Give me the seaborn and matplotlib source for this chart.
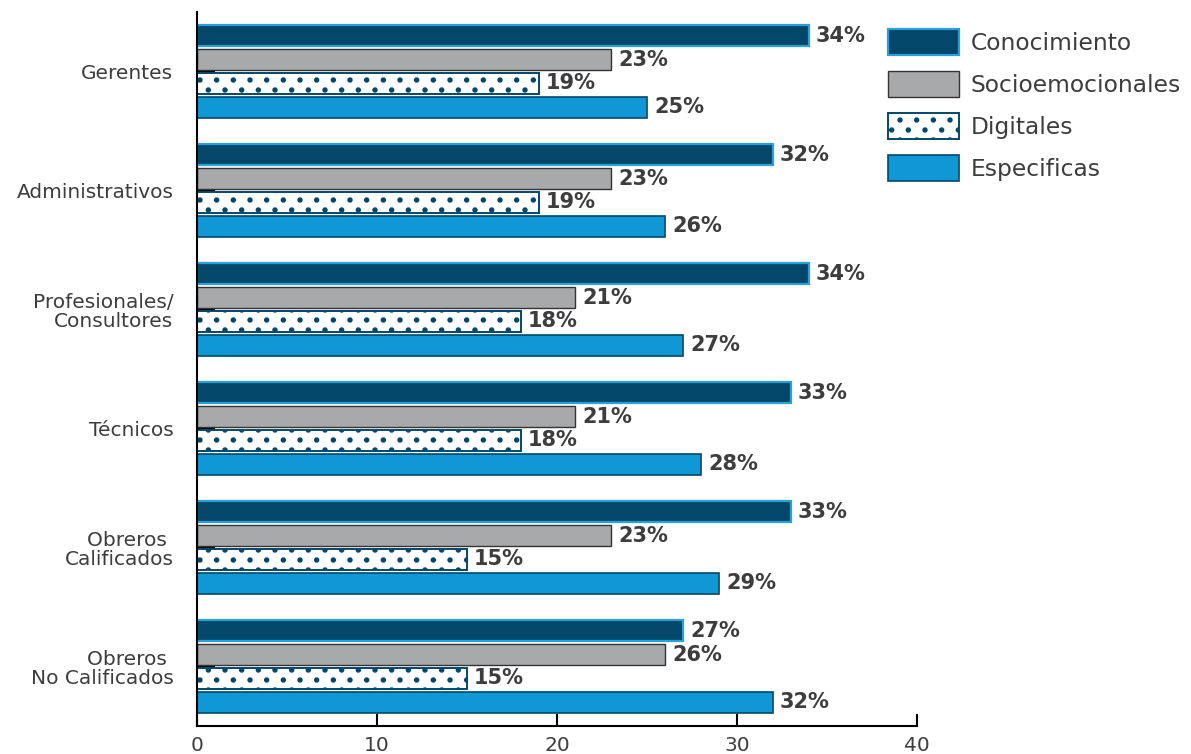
import matplotlib
matplotlib.use("Agg")
import matplotlib.pyplot as plt
from matplotlib.patches import Patch
from matplotlib.path import Path
import numpy as np
import seaborn as sns
import pandas as pd

categories = ["Gerentes", "Administrativos", "Profesionales/\nConsultores",
              "Técnicos", "Obreros \nCalificados", "Obreros \nNo Calificados"]
series = ["Conocimiento", "Socioemocionales", "Digitales", "Especificas"]
conocimiento = [34, 32, 34, 33, 33, 27]
socioemocionales = [23, 23, 21, 21, 23, 26]
digitales = [19, 19, 18, 18, 15, 15]
especificas = [25, 26, 27, 28, 29, 32]
x_ticks = [0, 10, 20, 30, 40]

# ---- custom dot hatch (staggered, wider columns than rows) ----
try:
    from matplotlib import hatch as mhatch

    class WideDots(mhatch.HatchPatternBase):
        rows = 10
        cols = 6
        radius = 0.02

        def __init__(self, hatch, density):
            self.n = hatch.count('.')
            circ = Path.unit_circle()
            self.sv = circ.vertices
            self.sc = circ.codes
            centers = []
            if self.n:
                for j in range(self.rows + 1):
                    y = j / self.rows
                    if j % 2 == 0:
                        xs = np.linspace(0, 1, self.cols + 1)
                    else:
                        xs = (np.arange(self.cols) + 0.5) / self.cols
                    for x in xs:
                        centers.append((x, y))
            self.centers = centers
            self.num_vertices = len(centers) * len(self.sv)

        def set_vertices_and_codes(self, vertices, codes):
            k = len(self.sv)
            for i, (cx, cy) in enumerate(self.centers):
                vertices[i * k:(i + 1) * k] = self.sv * self.radius + (cx, cy)
                codes[i * k:(i + 1) * k] = self.sc

    mhatch._hatch_types = [WideDots if t is mhatch.SmallFilledCircles else t
                           for t in mhatch._hatch_types]
except Exception:
    pass

values = [conocimiento, socioemocionales, digitales, especificas]
rows = []
for s, vals in zip(series, values):
    for c, v in zip(categories, vals):
        rows.append({"cat": c, "serie": s, "val": v})
df = pd.DataFrame(rows)

sns.set_theme(style="white")
plt.rcParams["font.family"] = ["DejaVu Sans"]
plt.rcParams["hatch.linewidth"] = 1.0

NAVY = "#03486A"
LIGHT = "#2A9FD8"
GRAY = "#A8A9AB"
BLUE = "#1097D5"
TXT = "#3D3D3D"

fills = [NAVY, GRAY, "white", BLUE]
edges = [LIGHT, "#333333", NAVY, NAVY]
lws = [1.6, 1.0, 1.4, 1.2]
hatches = [None, None, ".", None]

fig = plt.figure(figsize=(11.91, 7.54), dpi=100)
ax = fig.add_axes([0.1654, 0.037, 0.7700 - 0.1654, 0.984 - 0.037])

sns.barplot(data=df, x="val", y="cat", hue="serie", order=categories,
            hue_order=series, orient="y", width=0.8, gap=0.12, dodge=True,
            legend=False, ax=ax, palette=fills)

for i, cont in enumerate(ax.containers):
    for bar in cont:
        bar.set_facecolor(fills[i])
        bar.set_edgecolor(edges[i])
        bar.set_linewidth(lws[i])
        if hatches[i]:
            bar.set_hatch(hatches[i])
    ax.bar_label(cont, labels=[f"{v:.0f}%" for v in cont.datavalues],
                 padding=5, fontsize=15, fontweight="bold", color=TXT)

ax.set_xlim(0, 40)
ax.set_ylim(5.5, -0.5)
ax.set_xticks(x_ticks)
ax.set_xlabel("")
ax.set_ylabel("")
ax.set_axisbelow(True)
for s in ["top", "right"]:
    ax.spines[s].set_visible(False)
for s in ["left", "bottom"]:
    ax.spines[s].set_color("black")
    ax.spines[s].set_linewidth(1.5)
ax.tick_params(axis="x", direction="in", length=9, width=1.5, color="black",
               labelsize=14.5, labelcolor=TXT, pad=7)
ax.tick_params(axis="y", direction="in", length=13, width=1.5, color="black",
               labelsize=14.5, labelcolor=TXT, pad=17)
ax.xaxis.set_ticks_position("bottom")
ax.yaxis.set_ticks_position("left")
for lbl in ax.get_yticklabels():
    lbl.set_multialignment("right")
    lbl.set_linespacing(1.0)

handles = [Patch(facecolor=fills[i], edgecolor=edges[i], linewidth=lws[i],
                 hatch=hatches[i]) for i in range(4)]
fig.legend(handles, series, loc="upper left", bbox_to_anchor=(0.7456, 0.962),
           frameon=False, fontsize=16.8, handlelength=3.05, handleheight=1.35,
           labelspacing=0.68, handletextpad=0.5, borderpad=0, borderaxespad=0,
           labelcolor=TXT)

fig.savefig("out.png", dpi=100)
